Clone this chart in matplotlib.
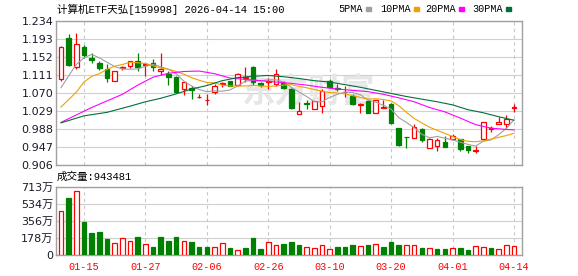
import numpy as np
import matplotlib.pyplot as plt
from matplotlib.patches import Rectangle

W, H = 578, 276

# ---------------- data ----------------
title = '计算机ETF天弘[159998] 2026-04-14 15:00'
tick_idx = [3, 11, 19, 27, 35, 43, 51, 59]
tick_labels = ['01-15', '01-27', '02-06', '02-26', '03-10', '03-20', '04-01', '04-14']

opens = [1.103, 1.196, 1.129, 1.175, 1.150, 1.138, 1.125, 1.097, 1.126, 1.131,
         1.143, 1.133, 1.138, 1.119, 1.114, 1.106, 1.080, 1.081, 1.060, 1.053,
         1.072, 1.091, 1.097, 1.088, 1.105, 1.129, 1.093, 1.094, 1.090, 1.093,
         1.080, 1.023, 1.048, 1.033, 1.040, 1.097, 1.082, 1.072, 1.064, 1.043,
         1.052, 1.025, 1.035, 1.046, 0.990, 0.970, 0.968, 0.987, 0.944, 0.949,
         0.958, 0.966, 0.965, 0.949, 0.939, 0.965, 0.987, 0.999, 0.999, 1.035]
highs = [1.176, 1.204, 1.206, 1.179, 1.161, 1.143, 1.135, 1.121, 1.131, 1.144,
         1.162, 1.139, 1.147, 1.160, 1.120, 1.109, 1.095, 1.086, 1.068, 1.067,
         1.090, 1.096, 1.098, 1.115, 1.130, 1.131, 1.095, 1.105, 1.125, 1.097,
         1.082, 1.050, 1.053, 1.052, 1.078, 1.101, 1.091, 1.086, 1.068, 1.048,
         1.053, 1.055, 1.053, 1.048, 0.991, 0.970, 1.000, 0.991, 0.968, 0.967,
         0.971, 0.977, 0.966, 0.950, 0.950, 1.003, 0.994, 1.016, 1.020, 1.044]
lows = [1.097, 1.131, 1.124, 1.149, 1.139, 1.123, 1.096, 1.097, 1.122, 1.128,
        1.119, 1.109, 1.120, 1.112, 1.088, 1.071, 1.066, 1.057, 1.058, 1.043,
        1.067, 1.084, 1.085, 1.087, 1.096, 1.089, 1.084, 1.080, 1.086, 1.080,
        1.033, 1.023, 1.033, 1.033, 1.025, 1.082, 1.075, 1.062, 1.042, 1.024,
        1.024, 1.025, 1.035, 1.000, 0.949, 0.944, 0.967, 0.959, 0.944, 0.938,
        0.948, 0.966, 0.939, 0.934, 0.934, 0.965, 0.982, 0.999, 0.991, 1.027]
closes = [1.175, 1.134, 1.181, 1.157, 1.146, 1.126, 1.105, 1.119, 1.129, 1.142,
          1.130, 1.137, 1.129, 1.124, 1.106, 1.072, 1.095, 1.077, 1.061, 1.055,
          1.085, 1.093, 1.086, 1.113, 1.107, 1.096, 1.088, 1.097, 1.114, 1.082,
          1.036, 1.030, 1.046, 1.052, 1.075, 1.084, 1.078, 1.073, 1.044, 1.046,
          1.025, 1.053, 1.039, 1.002, 0.952, 0.969, 0.993, 0.962, 0.965, 0.964,
          0.948, 0.973, 0.942, 0.940, 0.941, 1.003, 0.990, 1.003, 1.011, 1.039]

# volume in 万, colour flag 1 = red (up), 0 = green
volume = [461, 601, 671, 350, 234, 245, 171, 126, 178, 147,
          192, 115, 87, 192, 150, 192, 147, 140, 87, 87,
          84, 122, 73, 49, 77, 178, 66, 136, 105, 115,
          136, 105, 80, 73, 105, 59, 84, 84, 105, 94,
          105, 115, 84, 136, 105, 105, 105, 73, 73, 63,
          63, 73, 73, 52, 94, 84, 73, 63, 105, 94]
vol_up = [1, 0, 1, 0, 0, 0, 0, 1, 1, 1,
          0, 1, 0, 0, 0, 0, 1, 0, 0, 0,
          1, 1, 0, 1, 0, 0, 0, 1, 1, 0,
          0, 0, 1, 1, 1, 1, 0, 0, 0, 1,
          0, 1, 0, 0, 0, 1, 1, 0, 1, 0,
          0, 1, 0, 0, 1, 1, 0, 1, 1, 1]

ma5 = [1.082, 1.109, 1.135, 1.150, 1.158, 1.150, 1.140, 1.130, 1.125, 1.124,
       1.125, 1.131, 1.135, 1.130, 1.124, 1.114, 1.097, 1.086, 1.078, 1.073,
       1.075, 1.074, 1.077, 1.086, 1.097, 1.099, 1.098, 1.100, 1.100, 1.095,
       1.083, 1.072, 1.062, 1.050, 1.050, 1.060, 1.067, 1.072, 1.071, 1.066,
       1.054, 1.049, 1.042, 1.033, 1.014, 1.003, 0.991, 0.976, 0.968, 0.971,
       0.967, 0.963, 0.958, 0.953, 0.949, 0.960, 0.963, 0.975, 0.989, 1.009]
ma10 = [1.038, 1.055, 1.072, 1.095, 1.108, 1.114, 1.124, 1.131, 1.135, 1.140,
        1.139, 1.137, 1.132, 1.127, 1.124, 1.119, 1.113, 1.105, 1.099, 1.094,
        1.093, 1.088, 1.086, 1.086, 1.086, 1.087, 1.086, 1.085, 1.086, 1.088,
        1.089, 1.085, 1.082, 1.078, 1.074, 1.071, 1.070, 1.068, 1.064, 1.060,
        1.056, 1.057, 1.055, 1.052, 1.041, 1.026, 1.012, 1.002, 0.992, 0.985,
        0.978, 0.971, 0.964, 0.960, 0.959, 0.961, 0.965, 0.969, 0.973, 0.978]
ma20_x = [0, 2, 4, 6, 8, 10, 12, 14, 16, 18, 20, 22, 24, 26, 28, 30,
          32, 34, 36, 38, 40, 42, 44, 46, 48, 50, 52, 54, 56, 58, 59]
ma20 = [1.003, 1.020, 1.037, 1.052, 1.067, 1.088, 1.106, 1.115, 1.119, 1.120, 1.114,
        1.104, 1.101, 1.098, 1.095, 1.092, 1.088, 1.083, 1.079, 1.076, 1.073,
        1.067, 1.059, 1.050, 1.037, 1.027, 1.013, 0.998, 0.990, 0.987, 0.986]
ma30_x = [0, 3, 6, 9, 11, 13, 15, 17, 19, 21, 23, 25, 27, 29, 31,
          33, 35, 37, 39, 41, 43, 45, 47, 49, 51, 53, 55, 57, 59]
ma30 = [1.002, 1.018, 1.026, 1.040, 1.050, 1.058, 1.068, 1.079, 1.087, 1.098,
        1.105, 1.108, 1.110, 1.107, 1.103, 1.098, 1.095, 1.089, 1.083, 1.076,
        1.069, 1.062, 1.056, 1.050, 1.043, 1.032, 1.025, 1.016, 1.008]

price_ticks = [0.906, 0.947, 0.988, 1.029, 1.070, 1.111, 1.152, 1.193, 1.234]
vol_ticks = [0, 178.25, 356.5, 534.75, 713]
vol_tick_labels = ['0', '178万', '356万', '534万', '713万']

legend_names = ['5PMA', '10PMA', '20PMA', '30PMA']
RED, GREEN = '#ff0000', '#008000'
ma_colors = ['#a0a0a0', '#f0a000', '#ff00ff', '#00703a']

mono = ['Liberation Mono', 'Noto Sans CJK SC']
sans = ['DejaVu Sans', 'Noto Sans CJK SC']

# ---------------- figure ----------------
fig = plt.figure(figsize=(W / 100, H / 100), dpi=100)
ax = fig.add_axes([56 / W, 1 - 165 / H, (522 - 56) / W, (165 - 21) / H])
axv = fig.add_axes([56 / W, 1 - 255 / H, (522 - 56) / W, (255 - 187) / H])

x = np.arange(len(closes))
o, h, l, c = map(np.array, (opens, highs, lows, closes))
up = c >= o
bw = 0.6

for a in (ax, axv):
    a.set_xlim(-0.65, 60.05)
    a.set_xticks(tick_idx)
    a.xaxis.grid(True, color='#c8c8c8', lw=0.8, ls=(0, (3, 3)))
    a.yaxis.grid(True, color='#d0d0d0', lw=0.8)
    a.set_axisbelow(True)
    a.tick_params(length=0, pad=2)
    for s in a.spines.values():
        s.set_color('#a0a0a0')
        s.set_linewidth(1.0)

# candles
ax.vlines(x, l, h, colors=np.where(up, RED, GREEN), lw=0.9, zorder=2)
body = np.where(np.abs(c - o) < 0.0008, 0.0008 * np.sign(c - o + 1e-9), c - o)
ax.bar(x[up], body[up], bottom=o[up], width=bw, facecolor='white',
       edgecolor=RED, lw=0.9, zorder=3)
ax.bar(x[~up], body[~up], bottom=o[~up], width=bw, facecolor=GREEN,
       edgecolor=GREEN, lw=0.9, zorder=3)

# moving averages
ax.plot(x, ma5, color=ma_colors[0], lw=0.8, zorder=4)
ax.plot(x, ma10, color=ma_colors[1], lw=0.8, zorder=4)
ax.plot(ma20_x, ma20, color=ma_colors[2], lw=0.8, zorder=4)
ax.plot(ma30_x, ma30, color=ma_colors[3], lw=0.8, zorder=4)

# watermark
ax.text(32.2, 1.070, '东方财富', fontsize=24, color='#e6e6e6', ha='center',
        va='center', family=mono, fontweight='bold', zorder=1)

ax.set_ylim(0.906, 1.234)
ax.set_yticks(price_ticks)
ax.set_yticklabels([f'{v:.3f}' for v in price_ticks], fontsize=8,
                   color='#1a1a2a', family=sans)
ax.tick_params(labelbottom=False)

# volume
vu = np.array(vol_up, dtype=bool)
vol = np.array(volume)
axv.bar(x[vu], vol[vu], width=bw, facecolor='white', edgecolor=RED, lw=0.9, zorder=3)
axv.bar(x[~vu], vol[~vu], width=bw, facecolor=GREEN, edgecolor=GREEN, lw=0.9, zorder=3)
axv.set_ylim(0, 713)
axv.set_yticks(vol_ticks)
axv.set_yticklabels(vol_tick_labels, fontsize=8, color='#1a1a2a', family=sans)
axv.set_xticklabels(tick_labels, fontsize=7.3, color=RED, family=mono)
axv.tick_params(axis='x', pad=5)

# header texts
fig.text(57 / W, 1 - 9 / H, title, fontsize=7.6, family=mono, va='center', ha='left')
fig.text(57 / W, 1 - 177 / H, '成交量:943481', fontsize=7.6, family=mono,
         va='center', ha='left')

leg_x = [338, 380, 425, 472]
for name, col, lx in zip(legend_names, ma_colors, leg_x):
    t = fig.text(lx / W, 1 - 9 / H, name, fontsize=7.3, family=mono,
                 va='center', ha='left')
    n = len(name)
    sx = lx + n * 6 + 4
    fig.patches.append(Rectangle((sx / W, 1 - 11 / H), 5 / W, 4 / H,
                                 transform=fig.transFigure, color=col))

fig.savefig('out.png', dpi=100)
